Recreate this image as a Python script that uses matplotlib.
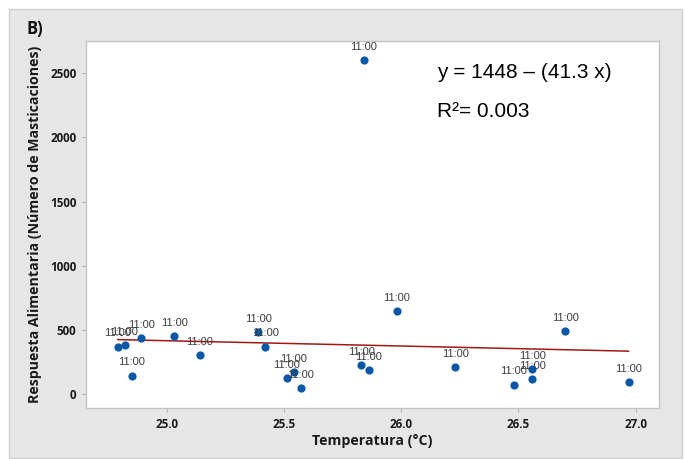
import matplotlib.pyplot as plt
from matplotlib.patches import Rectangle

# Temperatura (°C) y respuesta alimentaria (número de masticaciones)
temperatura = [24.79, 24.82, 24.85, 24.89, 25.03, 25.14, 25.39, 25.42, 25.51, 25.54,
               25.57, 25.83, 25.86, 25.98, 26.23, 26.48, 26.56, 26.56, 26.70, 26.97,
               25.84]
masticaciones = [369, 382, 143, 439, 452, 304, 484, 369, 127, 174,
                 44, 226, 187, 645, 211, 73, 193, 115, 491, 91,
                 2605]
etiquetas = ['11:00'] * len(temperatura)

# Recta de ajuste reportada
intercepto = 1448
pendiente = -41.3
r2 = 0.003

W, H = 685, 459
fig = plt.figure(figsize=(W / 100, H / 100), dpi=100)
fig.patch.set_facecolor('white')

# gray panel behind the chart
fig.patches.append(Rectangle((9 / W, 1 / H), 673 / W, 449 / H, transform=fig.transFigure,
                             facecolor='#e6e6e6', edgecolor='#cfcfcf', linewidth=1, zorder=-10))

ax = fig.add_axes([86 / W, (H - 408) / H, (659 - 86) / W, (408 - 41) / H])
ax.set_zorder(1)
ax.set_facecolor('white')

ax.scatter(temperatura, masticaciones, s=24, color='#0a57a6', zorder=3)
for x, y, lab in zip(temperatura, masticaciones, etiquetas):
    ax.annotate(lab, (x, y), xytext=(0, 9.5), textcoords='offset points',
                ha='center', va='center', fontsize=8, color='#3c3c3c',
                family='Liberation Sans', zorder=4)

x0, x1 = min(temperatura), max(temperatura)
ax.plot([x0, x1], [intercepto + pendiente * x0, intercepto + pendiente * x1],
        color='#a01818', linewidth=1.1, zorder=2)

ax.set_xlim(24.654, 27.10)
ax.set_ylim(-109, 2752)
ax.set_xticks([25.0, 25.5, 26.0, 26.5, 27.0])
ax.set_xticklabels(['25.0', '25.5', '26.0', '26.5', '27.0'])
ax.set_yticks([0, 500, 1000, 1500, 2000, 2500])

for s in ax.spines.values():
    s.set_color('#c4c4c4')
    s.set_linewidth(1)
ax.tick_params(length=3, width=0.8, color='#b0b0b0', pad=4)
for t in ax.get_xticklabels() + ax.get_yticklabels():
    t.set_family('Open Sans')
    t.set_weight('bold')
    t.set_fontsize(8.4)
    t.set_color('#1a1a1a')

ax.set_xlabel('Temperatura (°C)', family='Open Sans', weight='bold',
              fontsize=10.2, color='#1a1a1a', labelpad=2)
ax.set_ylabel('Respuesta Alimentaria (Número de Masticaciones)', family='Open Sans',
              weight='bold', fontsize=10.2, color='#1a1a1a', labelpad=6)

ax.text(0.6126, 0.915, f'y = {intercepto} – ({abs(pendiente)} x)', transform=ax.transAxes,
        family='Liberation Sans', fontsize=15, va='center', ha='left', color='black')
ax.text(0.6126, 0.808, f'R²= {r2:.3f}', transform=ax.transAxes,
        family='Liberation Sans', fontsize=15, va='center', ha='left', color='black')

fig.text(27 / W, 1 - 29 / H, 'B)', family='Open Sans', weight='bold', fontsize=12,
         va='center', ha='left', color='#111111')

fig.savefig('out.png', dpi=100)
